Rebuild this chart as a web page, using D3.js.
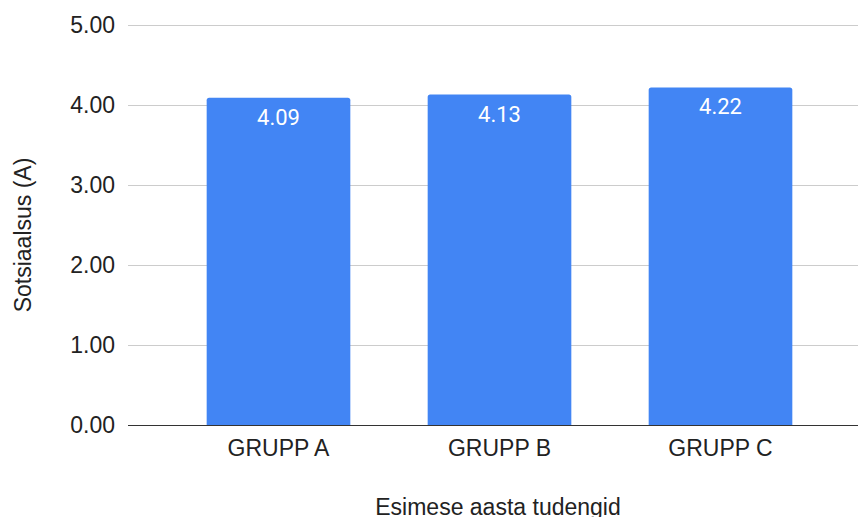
<!DOCTYPE html>
<html>
<head>
<meta charset="utf-8">
<script src="https://cdn.jsdelivr.net/npm/d3@7"></script>
<style>
  html, body { margin: 0; padding: 0; background: #fff; }
  svg { display: block; }
</style>
</head>
<body>
<svg id="chart" width="858" height="517"></svg>
<script>
// Group names and mean scores
const categories = ["GRUPP A", "GRUPP B", "GRUPP C"];
const values = [4.09, 4.13, 4.22];
const yTicks = [0, 1, 2, 3, 4, 5];
const xTitle = "Esimese aasta tudengid";
const yTitle = "Sotsiaalsus (A)";

const svg = d3.select("#chart");
const W = 858, H = 517;

const gridLeft = 128, gridRight = 858;
const y = d3.scaleLinear().domain([0, 5]).range([425, 25]);
const x = d3.scaleBand().domain(categories).range([168, 831])
  .paddingInner(0.35).paddingOuter(0.175);

const axisFont = "'Liberation Sans', Arial, Helvetica, sans-serif";
const labelFont = "Roboto, 'Noto Sans', sans-serif";

// Horizontal gridlines
svg.append("g").selectAll("line")
  .data(yTicks.filter(d => d !== 0))
  .join("line")
  .attr("x1", gridLeft).attr("x2", gridRight)
  .attr("y1", d => Math.round(y(d)) + 0.5).attr("y2", d => Math.round(y(d)) + 0.5)
  .attr("stroke", "#cccccc").attr("stroke-width", 1);

// Y tick labels
svg.append("g").selectAll("text")
  .data(yTicks)
  .join("text")
  .attr("x", 115)
  .attr("y", d => y(d) + 8)
  .attr("text-anchor", "end")
  .attr("font-family", axisFont)
  .attr("font-size", 23)
  .attr("fill", "#222")
  .text(d => d3.format(".2f")(d));

// Bars with slightly rounded top corners
const r = 2.5;
function barPath(x0, w, yTop, yBase) {
  return `M${x0},${yBase}V${yTop + r}Q${x0},${yTop} ${x0 + r},${yTop}` +
         `H${x0 + w - r}Q${x0 + w},${yTop} ${x0 + w},${yTop + r}V${yBase}Z`;
}
const data = categories.map((c, i) => ({ c, v: values[i] }));

svg.append("g").selectAll("path")
  .data(data)
  .join("path")
  .attr("d", d => barPath(x(d.c), x.bandwidth(), y(d.v), y(0)))
  .attr("fill", "#4285f4");

// Value labels inside bar tops
svg.append("g").selectAll("text")
  .data(data)
  .join("text")
  .attr("x", d => x(d.c) + x.bandwidth() / 2)
  .attr("y", d => y(d.v) + 27)
  .attr("text-anchor", "middle")
  .attr("font-family", labelFont)
  .attr("font-size", 22)
  .attr("fill", "#ffffff")
  .text(d => d3.format(".2f")(d.v));

// Baseline
svg.append("line")
  .attr("x1", gridLeft).attr("x2", gridRight)
  .attr("y1", Math.round(y(0)) + 0.5).attr("y2", Math.round(y(0)) + 0.5)
  .attr("stroke", "#333333").attr("stroke-width", 1.2);

// Category labels
svg.append("g").selectAll("text")
  .data(categories)
  .join("text")
  .attr("x", d => x(d) + x.bandwidth() / 2)
  .attr("y", 456)
  .attr("text-anchor", "middle")
  .attr("font-family", axisFont)
  .attr("font-size", 23)
  .attr("fill", "#222")
  .text(d => d);

// Axis titles
svg.append("text")
  .attr("x", 498).attr("y", 515)
  .attr("text-anchor", "middle")
  .attr("font-family", axisFont)
  .attr("font-size", 23)
  .attr("fill", "#222")
  .text(xTitle);

svg.append("text")
  .attr("transform", "translate(31,235) rotate(-90)")
  .attr("text-anchor", "middle")
  .attr("font-family", axisFont)
  .attr("font-size", 23)
  .attr("fill", "#222")
  .text(yTitle);
</script>
</body>
</html>
